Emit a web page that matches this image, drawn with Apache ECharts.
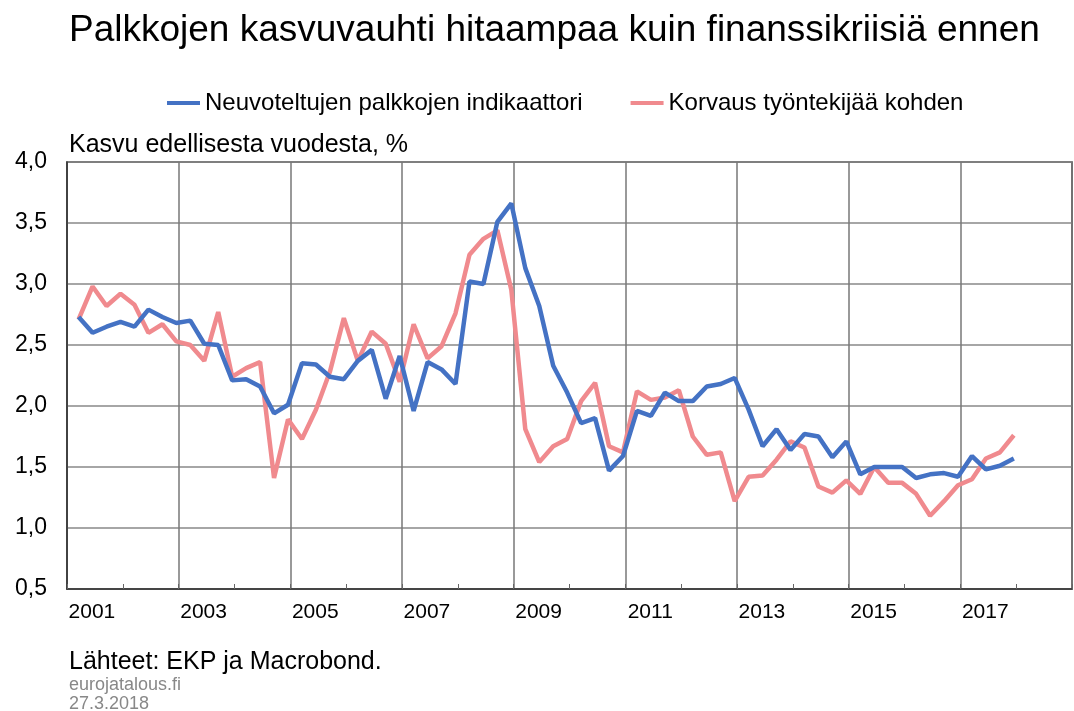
<!DOCTYPE html>
<html>
<head>
<meta charset="utf-8">
<script src="https://cdn.jsdelivr.net/npm/echarts@6/dist/echarts.min.js"></script>
<style>
  html, body { margin: 0; padding: 0; background: #fff; }
  #chart { width: 1074px; height: 711px; }
</style>
</head>
<body>
<div id="chart"></div>
<script>
// vuodet, neljännesvuosittaiset havainnot (Q1..Q4)
const years = [2001, 2002, 2003, 2004, 2005, 2006, 2007, 2008, 2009,
  2010, 2011, 2012, 2013, 2014, 2015, 2016, 2017];

// Neuvoteltujen palkkojen indikaattori, %
const negotiatedWages = [
  2.73, 2.60, 2.65, 2.69,
  2.65, 2.79, 2.73, 2.68,
  2.70, 2.51, 2.50, 2.21,
  2.22, 2.16, 1.94, 2.01,
  2.35, 2.34, 2.24, 2.22,
  2.37, 2.46, 2.06, 2.41,
  1.96, 2.36, 2.30, 2.18,
  3.02, 3.00, 3.51, 3.66,
  3.13, 2.82, 2.33, 2.11,
  1.86, 1.90, 1.47, 1.59,
  1.96, 1.92, 2.11, 2.04,
  2.04, 2.16, 2.18, 2.23,
  1.97, 1.67, 1.81, 1.64,
  1.77, 1.75, 1.58, 1.71,
  1.44, 1.50, 1.50, 1.50,
  1.41, 1.44, 1.45, 1.42,
  1.59, 1.48, 1.51, 1.57
];

// Korvaus työntekijää kohden, %
const compensation = [
  2.71, 2.98, 2.82, 2.92,
  2.83, 2.60, 2.67, 2.53,
  2.50, 2.37, 2.77, 2.24,
  2.31, 2.36, 1.41, 1.89,
  1.73, 1.97, 2.28, 2.72,
  2.37, 2.61, 2.51, 2.20,
  2.67, 2.39, 2.49, 2.76,
  3.24, 3.37, 3.44, 2.95,
  1.81, 1.54, 1.67, 1.73,
  2.04, 2.19, 1.67, 1.62,
  2.12, 2.05, 2.07, 2.13,
  1.75, 1.60, 1.62, 1.22,
  1.42, 1.43, 1.56, 1.71,
  1.66, 1.34, 1.29, 1.39,
  1.28, 1.50, 1.37, 1.37,
  1.28, 1.10, 1.22, 1.35,
  1.40, 1.57, 1.62, 1.76
];

const yearLabels = [2001.5, 2003.5, 2005.5, 2007.5, 2009.5, 2011.5, 2013.5, 2015.5, 2017.5];

// havainto piirretään neljänneksen viimeisen kuukauden puoliväliin
function toPoints(values) {
  const pts = [];
  years.forEach((y, i) => {
    for (let q = 0; q < 4; q++) {
      const v = values[i * 4 + q];
      if (v != null) pts.push([y + (3 * q + 2.5) / 12, v]);
    }
  });
  return pts;
}

const font = "'Liberation Sans', Arial, sans-serif";
const myChart = echarts.init(document.getElementById("chart"));

const option = {
  backgroundColor: "#fff",
  animation: false,
  title: {
    text: "Palkkojen kasvuvauhti hitaampaa kuin finanssikriisiä ennen",
    left: 64,
    top: 7,
    textStyle: { fontFamily: font, fontSize: 37, fontWeight: "normal", color: "#000" },
  },
  legend: {
    top: 86,
    left: 162,
    itemGap: 48,
    itemWidth: 33,
    itemHeight: 4,
    icon: "rect",
    textStyle: { fontFamily: font, fontSize: 24, color: "#000" },
    data: ["Neuvoteltujen palkkojen indikaattori", "Korvaus työntekijää kohden"],
  },
  grid: {
    left: 67,
    right: 2,
    top: 162,
    bottom: 122,
    show: true,
    borderColor: "#333",
    borderWidth: 1.5,
  },
  xAxis: {
    type: "value",
    min: 2001,
    max: 2019,
    interval: 2,
    axisLine: { show: true, lineStyle: { color: "#333", width: 1.5 } },
    axisTick: { show: true, inside: true, length: 5, lineStyle: { color: "#666" } },
    minorTick: { show: true, splitNumber: 2, length: 5, lineStyle: { color: "#666" } },
    splitLine: { show: true, lineStyle: { color: "#777", width: 1.5 } },
    axisLabel: {
      customValues: yearLabels,
      formatter: (v) => String(Math.floor(v)),
      fontFamily: font,
      fontSize: 21,
      color: "#000",
      margin: 13,
      padding: [0, 6, 0, 0],
    },
  },
  yAxis: {
    type: "value",
    min: 0.5,
    max: 4.0,
    interval: 0.5,
    name: "Kasvu edellisesta vuodesta, %",
    nameLocation: "end",
    nameGap: 4,
    nameTextStyle: { fontFamily: font, fontSize: 25, color: "#000", align: "left", padding: [0, 0, 0, 2] },
    axisLine: { show: true, lineStyle: { color: "#333", width: 1.5 } },
    axisTick: { show: false },
    splitLine: { show: true, lineStyle: { color: "#888", width: 1.5 } },
    axisLabel: {
      formatter: (v) => v.toFixed(1).replace(".", ","),
      fontFamily: font,
      fontSize: 23,
      color: "#000",
      margin: 20,
    },
  },
  series: [
    {
      name: "Neuvoteltujen palkkojen indikaattori",
      type: "line",
      showSymbol: false,
      data: toPoints(negotiatedWages),
      lineStyle: { color: "#4472c4", width: 4.5 },
      itemStyle: { color: "#4472c4" },
      z: 3,
    },
    {
      name: "Korvaus työntekijää kohden",
      type: "line",
      showSymbol: false,
      data: toPoints(compensation),
      lineStyle: { color: "#f08a8e", width: 4.5 },
      itemStyle: { color: "#f08a8e" },
      z: 2,
    },
  ],
  graphic: [
    {
      type: "text",
      left: 69,
      top: 650,
      style: { text: "Lähteet: EKP ja Macrobond.", font: "25px " + font, fill: "#000" },
    },
    {
      type: "text",
      left: 69,
      top: 676,
      style: { text: "eurojatalous.fi", font: "18px " + font, fill: "#888" },
    },
    {
      type: "text",
      left: 69,
      top: 695,
      style: { text: "27.3.2018", font: "18px " + font, fill: "#888" },
    },
  ],
};

myChart.setOption(option);
</script>
</body>
</html>
